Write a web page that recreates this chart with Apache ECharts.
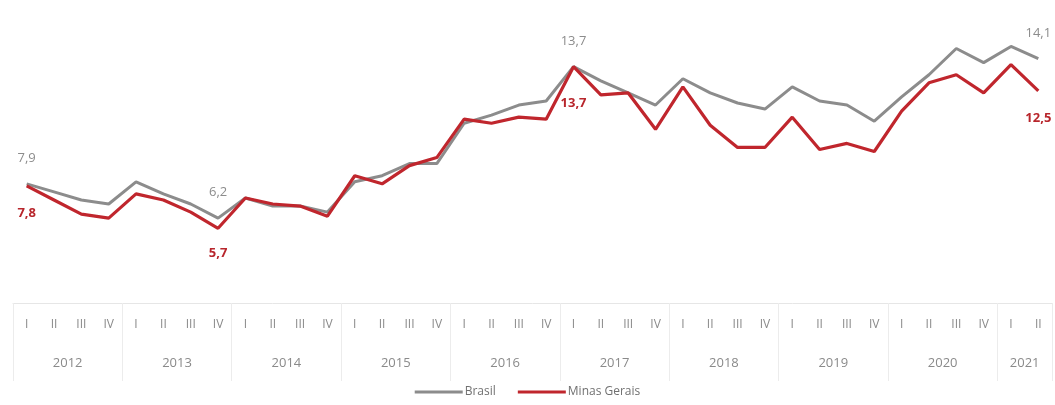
<!DOCTYPE html>
<html>
<head>
<meta charset="utf-8">
<title>Taxa de desocupação</title>
<script src="https://cdn.jsdelivr.net/npm/echarts@6/dist/echarts.min.js"></script>
<style>
  html, body { margin: 0; padding: 0; background: #fff; }
  #chart { width: 1055px; height: 405px; }
</style>
</head>
<body>
<div id="chart"></div>
<script>
// trimestres 2012-I ... 2021-II
var quarters = ['I', 'II', 'III', 'IV'];
var years = ['2012', '2013', '2014', '2015', '2016', '2017', '2018', '2019', '2020', '2021'];
var yearQuarters = [4, 4, 4, 4, 4, 4, 4, 4, 4, 2];

var brasil = [7.9, 7.5, 7.1, 6.9, 8.0, 7.4, 6.9, 6.2, 7.2, 6.8, 6.8, 6.5,
  8.0, 8.3, 8.9, 8.9, 10.9, 11.3, 11.8, 12.0, 13.7, 13.0, 12.4, 11.8,
  13.1, 12.4, 11.9, 11.6, 12.7, 12.0, 11.8, 11.0, 12.2, 13.3, 14.6, 13.9,
  14.7, 14.1];
var minas = [7.8, 7.1, 6.4, 6.2, 7.4, 7.1, 6.5, 5.7, 7.2, 6.9, 6.8, 6.3,
  8.3, 7.9, 8.8, 9.2, 11.1, 10.9, 11.2, 11.1, 13.7, 12.3, 12.4, 10.6,
  12.7, 10.8, 9.7, 9.7, 11.2, 9.6, 9.9, 9.5, 11.5, 12.9, 13.3, 12.4,
  13.8, 12.5];

// pontos com rótulo
var brasilLabels = [0, 7, 20, 37];
var minasLabels = [0, 7, 20, 37];

var cats = [];
years.forEach(function (y, k) {
  for (var q = 0; q < yearQuarters[k]; q++) cats.push(quarters[q]);
});

// centro de cada ano e divisórias entre anos (em índice de trimestre)
var yearCenters = [], yearBreaks = [-0.5], pos = 0;
yearQuarters.forEach(function (n) {
  yearCenters.push(pos + (n - 1) / 2);
  pos += n;
  yearBreaks.push(pos - 0.5);
});

function fmt(v) { return String(v.toFixed(1)).replace('.', ','); }

function withLabels(values, idx, color, bold, placeFn) {
  return values.map(function (v, i) {
    if (idx.indexOf(i) < 0) return v;
    var p = placeFn(i);
    return {
      value: v,
      label: {
        show: true, position: p.pos, distance: p.dist,
        formatter: fmt(v), color: color, fontSize: 13,
        fontWeight: bold ? 'bold' : 'normal', fontFamily: 'Open Sans'
      }
    };
  });
}

var chart = echarts.init(document.getElementById('chart'));

chart.setOption({
  animation: false,
  grid: { left: 13, right: 3, top: 0, bottom: 102 },
  legend: {
    bottom: 2, left: 'center',
    icon: 'rect', itemWidth: 48, itemHeight: 3, itemGap: 22,
    textStyle: { color: '#707070', fontSize: 12, fontFamily: 'Open Sans', padding: [0, 0, 0, -3] },
    data: ['Brasil', 'Minas Gerais']
  },
  xAxis: [{
    type: 'category',
    data: cats,
    axisLine: { lineStyle: { color: '#e6e6e6' } },
    axisTick: { show: false },
    axisLabel: { color: '#8a8a8a', fontSize: 12, margin: 16, fontFamily: 'Open Sans' }
  }, {
    type: 'value',
    position: 'bottom',
    min: -0.5, max: cats.length - 0.5,
    axisLine: { show: false },
    splitLine: { show: false },
    axisTick: {
      show: true, length: 78, customValues: yearBreaks,
      lineStyle: { color: '#ececec' }
    },
    axisLabel: {
      customValues: yearCenters, margin: 54, color: '#8a8a8a', fontSize: 13,
      fontFamily: 'Open Sans',
      formatter: function (v) { return years[yearCenters.indexOf(v)]; }
    }
  }],
  yAxis: {
    type: 'value', min: 2, max: 17,
    show: false, splitLine: { show: false }
  },
  series: [{
    name: 'Brasil',
    type: 'line',
    xAxisIndex: 0,
    data: withLabels(brasil, brasilLabels, '#8c8c8c', false, function () {
      return { pos: 'top', dist: 19 };
    }),
    symbol: 'circle',
    symbolSize: 0,
    showSymbol: true,
    lineStyle: { color: '#8c8c8c', width: 3 },
    itemStyle: { color: '#8c8c8c' },
    z: 2
  }, {
    name: 'Minas Gerais',
    type: 'line',
    xAxisIndex: 0,
    data: withLabels(minas, minasLabels, '#b8262c', true, function (i) {
      return { pos: 'bottom', dist: i === 20 ? 30 : (i === 7 ? 19 : 21) };
    }),
    symbol: 'circle',
    symbolSize: 0,
    showSymbol: true,
    lineStyle: { color: '#c0262d', width: 3.2 },
    itemStyle: { color: '#c0262d' },
    z: 3
  }]
});
</script>
</body>
</html>
